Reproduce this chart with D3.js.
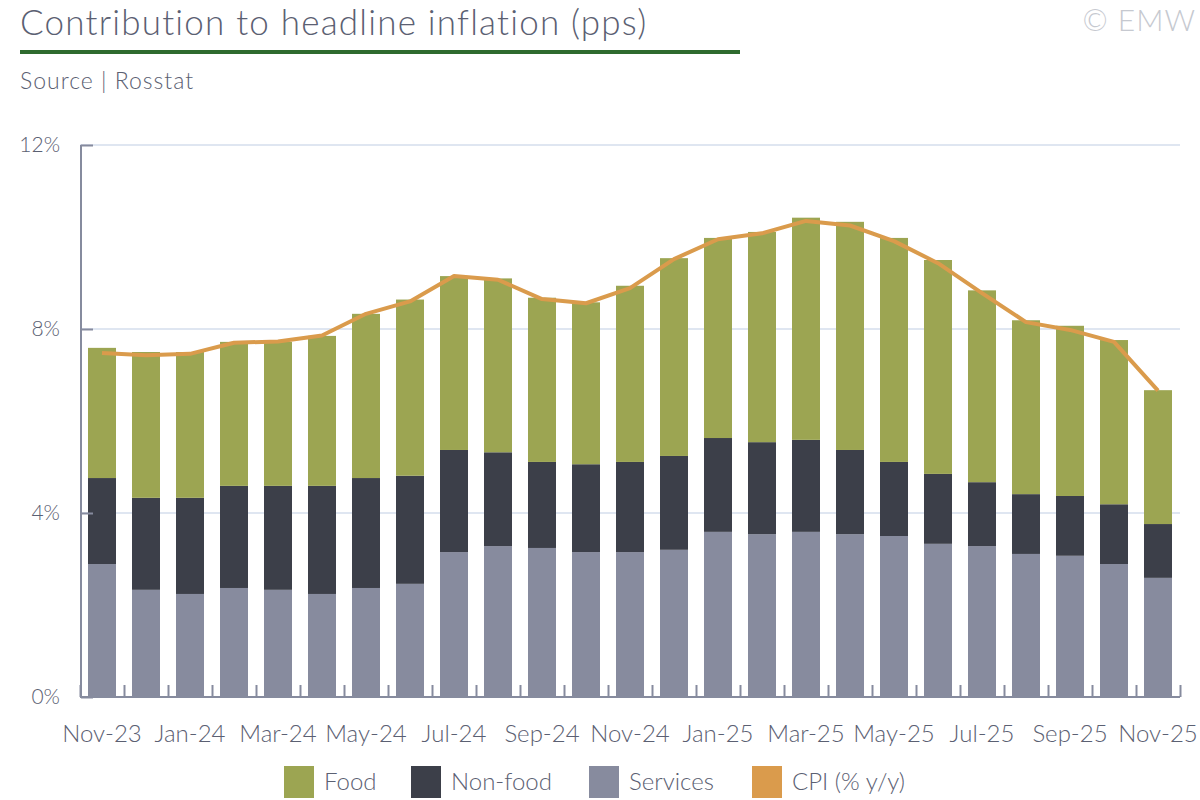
<html>
<script src="https://cdn.jsdelivr.net/npm/d3@7"></script>
<head>
    <style>
        body {
            margin: 0;
            font-family: Lato, "Open Sans", sans-serif;
            font-weight: 300;
            background: white;
        }
        svg text {
            fill: #5b6072;
            font-weight: 300;
        }
    </style>
</head>
<body>
    <svg id="chart"></svg>
    <script>
      // values, pps
      let months = ["Nov-23", "Dec-23", "Jan-24", "Feb-24", "Mar-24", "Apr-24", "May-24", "Jun-24",
                    "Jul-24", "Aug-24", "Sep-24", "Oct-24", "Nov-24", "Dec-24", "Jan-25", "Feb-25",
                    "Mar-25", "Apr-25", "May-25", "Jun-25", "Jul-25", "Aug-25", "Sep-25", "Oct-25", "Nov-25"]
      let services = [2.89, 2.33, 2.24, 2.37, 2.33, 2.24, 2.37, 2.46, 3.15, 3.28, 3.24, 3.15, 3.15,
                      3.20, 3.59, 3.54, 3.59, 3.54, 3.50, 3.33, 3.28, 3.11, 3.07, 2.89, 2.59]
      let nonFood = [1.87, 2.00, 2.09, 2.22, 2.26, 2.35, 2.39, 2.35, 2.22, 2.04, 1.87, 1.91, 1.96,
                     2.04, 2.04, 2.00, 2.00, 1.83, 1.61, 1.52, 1.39, 1.30, 1.30, 1.30, 1.17]
      let food = [2.83, 3.17, 3.17, 3.13, 3.13, 3.26, 3.57, 3.83, 3.78, 3.78, 3.57, 3.52, 3.83,
                  4.30, 4.35, 4.57, 4.83, 4.96, 4.87, 4.65, 4.17, 3.78, 3.70, 3.57, 2.91]
      let cpi = [7.48, 7.43, 7.46, 7.70, 7.73, 7.86, 8.33, 8.60, 9.15, 9.07, 8.65, 8.56, 8.89,
                 9.52, 9.95, 10.08, 10.35, 10.25, 9.91, 9.43, 8.78, 8.15, 7.98, 7.72, 6.66]
      let yTicks = [0, 4, 8, 12]
      let legendLabels = ["Food", "Non-food", "Services", "CPI (% y/y)"]

      let colors = {
          services: "#878b9e",
          nonFood: "#3c3f49",
          food: "#9ca552",
          cpi: "#da9b4c",
          axis: "#868b9e",
          grid: "#dfe6f1"
      }

      function getChartConfig() {
          let width = 1200
          let height = 800
          let margin = { top: 145, bottom: 103, left: 80, right: 20 }
          let container = d3.select("#chart")
              .attr("width", width)
              .attr("height", height)
          return { width, height, margin, container }
      }

      function getChartScales(config) {
          let { width, height, margin } = config
          let xScale = d3.scaleBand()
              .domain(months)
              .range([margin.left, width - margin.right])
              .paddingInner(0.364)
              .paddingOuter(0.182)
          let yScale = d3.scaleLinear()
              .domain([0, 12])
              .range([height - margin.bottom, margin.top])
          return { xScale, yScale }
      }

      function drawHeader(config) {
          let { container } = config
          container.append("text")
              .attr("x", 20).attr("y", 35)
              .style("font-size", "35px")
              .style("letter-spacing", "1.2px")
              .text("Contribution to headline inflation (pps)")
          container.append("rect")
              .attr("x", 20).attr("y", 50)
              .attr("width", 720).attr("height", 4)
              .attr("fill", "#2e6b2e")
          container.append("text")
              .attr("x", 20).attr("y", 89)
              .style("font-size", "23px")
              .style("letter-spacing", "1px")
              .text("Source | Rosstat")
          container.append("text")
              .attr("x", 1196).attr("y", 31)
              .attr("text-anchor", "end")
              .style("font-size", "30px")
              .style("letter-spacing", "1px")
              .style("fill", "#c6c9d0")
              .text("© EMW")
      }

      function drawGrid(scales, config) {
          let { xScale, yScale } = scales
          let x0 = xScale.range()[0], x1 = xScale.range()[1]
          config.container.append("g")
              .selectAll("line")
              .data(yTicks.filter(d => d > 0))
              .enter().append("line")
              .attr("x1", x0).attr("x2", x1)
              .attr("y1", d => yScale(d)).attr("y2", d => yScale(d))
              .attr("stroke", colors.grid)
              .attr("stroke-width", 2)
      }

      function drawBars(scales, config) {
          let { xScale, yScale } = scales
          let rows = months.map((m, i) => ({ month: m, services: services[i], nonFood: nonFood[i], food: food[i] }))
          let keys = ["services", "nonFood", "food"]
          let series = d3.stack().keys(keys)(rows)

          config.container.append("g")
              .selectAll("g")
              .data(series)
              .enter().append("g")
              .attr("fill", d => colors[d.key])
              .selectAll("rect")
              .data(d => d)
              .enter().append("rect")
              .attr("x", d => xScale(d.data.month))
              .attr("width", xScale.bandwidth())
              .attr("y", d => yScale(d[1]))
              .attr("height", d => yScale(d[0]) - yScale(d[1]))
      }

      function drawLine(scales, config) {
          let { xScale, yScale } = scales
          let line = d3.line()
              .x((d, i) => xScale(months[i]) + xScale.bandwidth() / 2)
              .y(d => yScale(d))
          config.container.append("path")
              .datum(cpi)
              .attr("d", line)
              .attr("fill", "none")
              .attr("stroke", colors.cpi)
              .attr("stroke-width", 4)
              .attr("stroke-linejoin", "round")
      }

      function drawAxes(scales, config) {
          let { xScale, yScale } = scales
          let { container } = config
          let x0 = xScale.range()[0], x1 = xScale.range()[1]
          let step = xScale.step()

          // y axis
          let axisY = d3.axisLeft(yScale)
              .tickValues(yTicks)
              .tickSize(-12)
              .tickPadding(20)
              .tickFormat(d => d + "%")
          let gy = container.append("g")
              .attr("transform", `translate(${x0 + 1},0)`)
              .call(axisY)
              .attr("font-family", null)
              .attr("font-size", null)
          gy.select(".domain").attr("stroke", colors.axis).attr("stroke-width", 2)
              .attr("d", `M0,${yScale(12)}V${yScale(0)}`)
          gy.selectAll(".tick line").attr("stroke", colors.axis).attr("stroke-width", 2)
          gy.selectAll(".tick text")
              .style("font-size", "21px")
              .attr("fill", null)
              .attr("x", -21)

          // x axis: ticks on category boundaries, labels every other month
          let gx = container.append("g")
          gx.append("line")
              .attr("x1", x0).attr("x2", x1)
              .attr("y1", yScale(0)).attr("y2", yScale(0))
              .attr("stroke", colors.axis).attr("stroke-width", 2)
          gx.selectAll(".xtick")
              .data(months.concat(["end"]))
              .enter().append("line")
              .attr("class", "xtick")
              .attr("x1", (d, i) => x0 + i * step + 0.5)
              .attr("x2", (d, i) => x0 + i * step + 0.5)
              .attr("y1", yScale(0) - 12).attr("y2", yScale(0))
              .attr("stroke", colors.axis).attr("stroke-width", 2)
          gx.selectAll(".xlabel")
              .data(months.filter((d, i) => i % 2 == 0))
              .enter().append("text")
              .attr("class", "xlabel")
              .attr("x", d => xScale(d) + xScale.bandwidth() / 2)
              .attr("y", yScale(0) + 45)
              .attr("text-anchor", "middle")
              .style("font-size", "24px")
              .text(d => d)
      }

      function drawLegend(config) {
          let { container } = config
          let swatches = [colors.food, colors.nonFood, colors.services, colors.cpi]
          let xs = [284, 411, 589, 752]
          let g = container.append("g")
          legendLabels.forEach((label, i) => {
              g.append("rect")
                  .attr("x", xs[i]).attr("y", 766)
                  .attr("width", 30).attr("height", 32)
                  .attr("fill", swatches[i])
              g.append("text")
                  .attr("x", xs[i] + 40).attr("y", 790)
                  .style("font-size", "24px")
                  .text(label)
          })
      }

      function drawChart() {
          let config = getChartConfig()
          let scales = getChartScales(config)
          drawHeader(config)
          drawGrid(scales, config)
          drawBars(scales, config)
          drawLine(scales, config)
          drawAxes(scales, config)
          drawLegend(config)
      }

      drawChart()
    </script>
</body>
</html>
